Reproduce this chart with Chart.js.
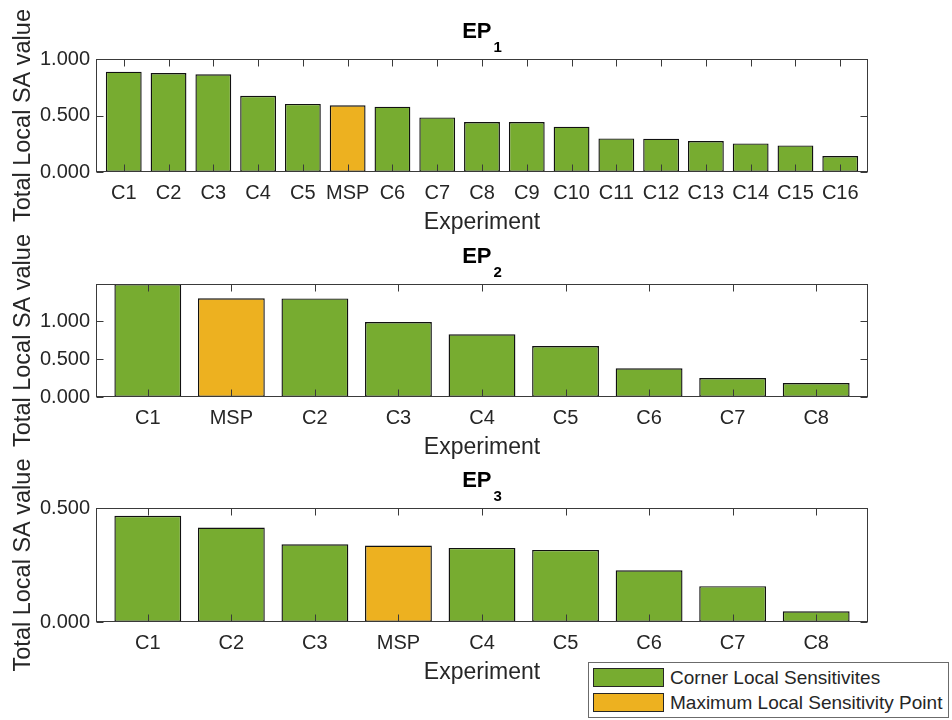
<!DOCTYPE html>
<html>
<head>
<meta charset="utf-8">
<script src="https://cdn.jsdelivr.net/npm/chart.js@4.4.1/dist/chart.umd.min.js"></script>
<style>
  html, body { margin: 0; padding: 0; background: #fff; width: 952px; height: 720px; overflow: hidden; }
  canvas { position: absolute; left: 0; top: 0; }
  #legend { position: absolute; left: 588px; top: 662px; width: 359px; height: 54px; border: 1px solid #6b6b6b;
            background: #fff; font-family: "Liberation Sans", Arial, Helvetica, sans-serif; font-size: 19px;
            color: #262626; z-index: 5; }
  .item { position: absolute; left: 4px; height: 19px; display: flex; align-items: center; white-space: nowrap; }
  .sw { width: 69px; height: 17px; border: 1px solid #262626; margin-right: 6px; flex: none; }
</style>
</head>
<body>
<canvas id="c1" width="952" height="720"></canvas>
<canvas id="c2" width="952" height="720"></canvas>
<canvas id="c3" width="952" height="720"></canvas>
<div id="legend"></div>
<script>
// ---------- data ----------
const ep1Labels = ['C1','C2','C3','C4','C5','MSP','C6','C7','C8','C9','C10','C11','C12','C13','C14','C15','C16'];
const ep1Values = [0.888,0.876,0.864,0.675,0.602,0.590,0.578,0.483,0.442,0.442,0.401,0.297,0.295,0.274,0.253,0.235,0.141];
const ep1YTicks = [0, 0.5, 1.0];
const ep1YMax = 1.0;

const ep2Labels = ['C1','MSP','C2','C3','C4','C5','C6','C7','C8'];
const ep2Values = [1.487,1.299,1.297,0.987,0.825,0.671,0.378,0.250,0.184];
const ep2YTicks = [0, 0.5, 1.0];
const ep2YMax = 1.487;

const ep3Labels = ['C1','C2','C3','MSP','C4','C5','C6','C7','C8'];
const ep3Values = [0.466,0.414,0.341,0.335,0.325,0.316,0.227,0.157,0.047];
const ep3YTicks = [0, 0.5];
const ep3YMax = 0.5;

const titleMain = 'EP';
const titleSubs = ['1', '2', '3'];
const xTitle = 'Experiment';
const yTitle = 'Total Local SA value';
const legendLabels = ['Corner Local Sensitivites', 'Maximum Local Sensitivity Point'];

// ---------- style ----------
const FONT = '"Liberation Sans", Arial, Helvetica, sans-serif';
const GREEN = '#77AC30';
const YELLOW = '#EDB120';
const EDGE = '#111111';
const TXT = '#262626';
const AXIS = '#3a3a3a';
const XPAD = 0.62;   // x-limit padding in category units
const XH = 64;       // x-axis box height
const YW = 96;       // y-axis box width

const framePlugin = {
  id: 'frame',
  afterDatasetsDraw(chart) {
    const { ctx, chartArea: a, scales } = chart;
    const L = Math.round(a.left) + 0.5, R = Math.round(a.right) - 0.5;
    const T = Math.round(a.top) + 0.5, B = Math.round(a.bottom) - 0.5;
    ctx.save();
    ctx.strokeStyle = AXIS;
    ctx.lineWidth = 1;
    ctx.beginPath();
    scales.x.ticks.forEach(t => {
      const px = Math.round(scales.x.getPixelForValue(t.value)) + 0.5;
      ctx.moveTo(px, B); ctx.lineTo(px, B - 7);
      ctx.moveTo(px, T); ctx.lineTo(px, T + 7);
    });
    scales.y.ticks.forEach(t => {
      const py = Math.round(scales.y.getPixelForValue(t.value)) + 0.5;
      ctx.moveTo(L, py); ctx.lineTo(L + 7, py);
      ctx.moveTo(R, py); ctx.lineTo(R - 7, py);
    });
    ctx.stroke();
    ctx.strokeRect(L, T, R - L, B - T);
    ctx.restore();
  }
};

const titlePlugin = {
  id: 'panelTitle',
  afterDraw(chart, args, opts) {
    const { ctx, chartArea: a } = chart;
    const cx = (a.left + a.right) / 2;
    const base = a.top - 21;
    ctx.save();
    ctx.fillStyle = '#000';
    ctx.textAlign = 'left';
    ctx.textBaseline = 'alphabetic';
    ctx.font = 'bold 22px ' + FONT;
    const w1 = ctx.measureText(opts.main).width;
    ctx.font = 'bold 15px ' + FONT;
    const w2 = ctx.measureText(opts.sub).width;
    const x0 = cx - (w1 + 2 + w2) / 2;
    ctx.font = 'bold 22px ' + FONT;
    ctx.fillText(opts.main, x0, base);
    ctx.font = 'bold 15px ' + FONT;
    ctx.fillText(opts.sub, x0 + w1 + 2, base + 13.5);
    ctx.restore();
  }
};

function makePanel(id, labels, values, yMax, yTicks, sub, area) {
  const corner = [], msp = [];
  labels.forEach((l, i) => {
    const pt = { x: i + 1, y: values[i] };
    (l === 'MSP' ? msp : corner).push(pt);
  });
  const common = { borderColor: EDGE, borderWidth: 1.4, borderSkipped: false, grouped: false,
                   barPercentage: 0.8, categoryPercentage: 1.0 };
  return new Chart(document.getElementById(id), {
    type: 'bar',
    data: {
      datasets: [
        Object.assign({ label: legendLabels[0], data: corner, backgroundColor: GREEN }, common),
        Object.assign({ label: legendLabels[1], data: msp, backgroundColor: YELLOW }, common)
      ]
    },
    options: {
      responsive: false,
      animation: false,
      events: [],
      layout: { padding: { left: 0, right: 952 - area.right, top: area.top, bottom: 720 - area.bottom - XH } },
      plugins: {
        legend: { display: false },
        tooltip: { enabled: false },
        panelTitle: { main: titleMain, sub: sub }
      },
      scales: {
        x: {
          type: 'linear',
          offset: false,
          min: 1 - XPAD,
          max: labels.length + XPAD,
          grid: { display: false, drawTicks: false, offset: false },
          border: { display: false },
          afterBuildTicks: s => { s.ticks = labels.map((_, i) => ({ value: i + 1 })); },
          afterFit: s => { s.height = XH; },
          ticks: {
            autoSkip: false, maxRotation: 0, minRotation: 0, padding: 9, color: TXT,
            font: { family: FONT, size: 20 },
            callback: v => labels[Math.round(v) - 1]
          },
          title: { display: true, text: xTitle, color: TXT, font: { family: FONT, size: 23 }, padding: 0 }
        },
        y: {
          type: 'linear',
          min: 0,
          max: yMax,
          grid: { display: false, drawTicks: false },
          border: { display: false },
          afterBuildTicks: s => { s.ticks = yTicks.map(v => ({ value: v })); },
          afterFit: s => { s.width = YW; },
          ticks: {
            padding: 6, color: TXT, font: { family: FONT, size: 20 },
            callback: v => Number(v).toFixed(3)
          },
          title: { display: true, text: yTitle, color: TXT, font: { family: FONT, size: 23.5 },
                   padding: { top: 9, bottom: 0 } }
        }
      }
    },
    plugins: [framePlugin, titlePlugin]
  });
}

makePanel('c1', ep1Labels, ep1Values, ep1YMax, ep1YTicks, titleSubs[0], { top: 59, bottom: 172, right: 868 });
makePanel('c2', ep2Labels, ep2Values, ep2YMax, ep2YTicks, titleSubs[1], { top: 284, bottom: 397, right: 868 });
makePanel('c3', ep3Labels, ep3Values, ep3YMax, ep3YTicks, titleSubs[2], { top: 508, bottom: 622, right: 868 });

// legend
const legendColors = [GREEN, YELLOW];
const legendEl = document.getElementById('legend');
legendLabels.forEach((txt, i) => {
  const item = document.createElement('div');
  item.className = 'item';
  item.style.top = (5 + i * 25) + 'px';
  const sw = document.createElement('span');
  sw.className = 'sw';
  sw.style.background = legendColors[i];
  const label = document.createElement('span');
  label.textContent = txt;
  item.appendChild(sw);
  item.appendChild(label);
  legendEl.appendChild(item);
});
</script>
</body>
</html>
